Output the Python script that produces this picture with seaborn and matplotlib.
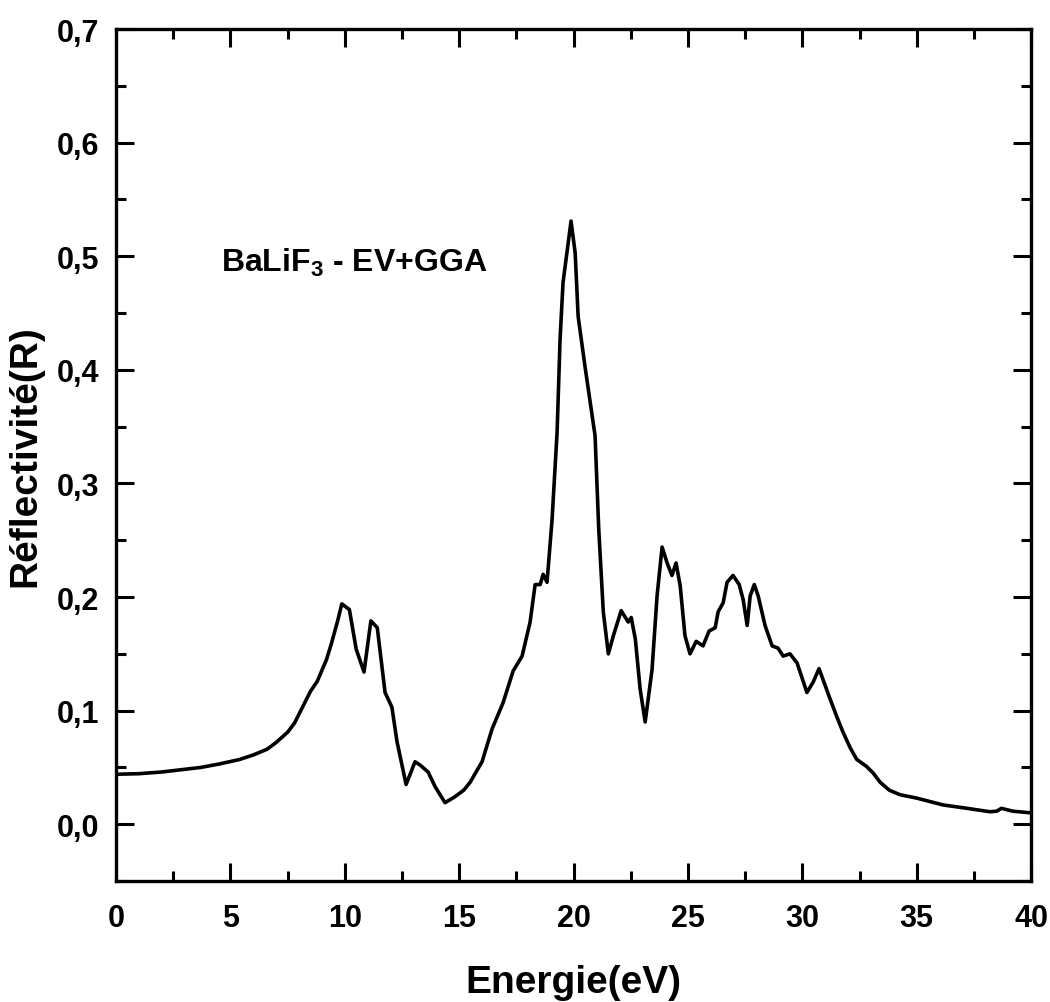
import numpy as np
import pandas as pd
import matplotlib
matplotlib.use("Agg")
import matplotlib.pyplot as plt
from matplotlib.ticker import MultipleLocator, FuncFormatter
import seaborn as sns

# values
energy = [0, 1, 2, 3.7, 4.5, 5.4, 6.0, 6.6, 7.0, 7.5, 7.8, 8.0, 8.5, 8.8, 9.2,
          9.4, 9.7, 9.87, 10.2, 10.5, 10.84, 11.14, 11.42, 11.76, 12.06, 12.28,
          12.68, 13.07, 13.3, 13.64, 13.95, 14.38, 14.8, 15.2, 15.48, 16.0,
          16.44, 16.92, 17.36, 17.75, 18.1, 18.32, 18.54, 18.67, 18.84, 19.06,
          19.28, 19.41, 19.54, 19.89, 20.07, 20.2, 20.5, 20.94, 21.1, 21.3,
          21.52, 21.74, 22.08, 22.39, 22.52, 22.7, 22.91, 23.13, 23.43, 23.65,
          23.87, 24.09, 24.3, 24.48, 24.66, 24.87, 25.09, 25.36, 25.66, 25.92,
          26.19, 26.32, 26.54, 26.71, 26.97, 27.24, 27.41, 27.59, 27.72, 27.9,
          28.07, 28.37, 28.68, 28.94, 29.16, 29.46, 29.77, 30.2, 30.47, 30.73,
          31.2, 31.5, 31.78, 32.1, 32.38, 32.8, 33.1, 33.4, 33.8, 34.27, 35.0,
          36.15, 37.2, 38.2, 38.5, 38.7, 39.2, 40]
reflectivity = [0.044, 0.0445, 0.046, 0.050, 0.053, 0.057, 0.061, 0.066, 0.072,
                0.081, 0.089, 0.097, 0.117, 0.126, 0.145, 0.158, 0.180, 0.194,
                0.189, 0.154, 0.134, 0.179, 0.173, 0.116, 0.103, 0.073, 0.035,
                0.055, 0.052, 0.046, 0.033, 0.019, 0.024, 0.030, 0.037, 0.055,
                0.084, 0.107, 0.135, 0.148, 0.178, 0.211, 0.211, 0.220, 0.213,
                0.268, 0.345, 0.427, 0.477, 0.531, 0.503, 0.447, 0.403, 0.342,
                0.260, 0.187, 0.150, 0.166, 0.188, 0.178, 0.182, 0.163, 0.119,
                0.090, 0.136, 0.201, 0.244, 0.230, 0.219, 0.230, 0.210, 0.166,
                0.150, 0.161, 0.157, 0.170, 0.173, 0.187, 0.195, 0.213, 0.219,
                0.211, 0.198, 0.175, 0.201, 0.211, 0.201, 0.175, 0.157, 0.155,
                0.148, 0.150, 0.142, 0.116, 0.125, 0.137, 0.111, 0.095, 0.081,
                0.067, 0.057, 0.051, 0.045, 0.037, 0.030, 0.026, 0.023, 0.017,
                0.014, 0.011, 0.0115, 0.014, 0.0115, 0.010]

x_ticks = [0, 5, 10, 15, 20, 25, 30, 35, 40]
y_ticks = [0.0, 0.1, 0.2, 0.3, 0.4, 0.5, 0.6, 0.7]

sns.set_theme(style="ticks")
plt.rcParams["font.family"] = ["Liberation Sans", "DejaVu Sans"]
plt.rcParams["font.weight"] = "bold"
plt.rcParams["text.color"] = "black"
plt.rcParams["axes.labelcolor"] = "black"
plt.rcParams["mathtext.fontset"] = "custom"
plt.rcParams["mathtext.rm"] = "Liberation Sans:bold"
plt.rcParams["mathtext.bf"] = "Liberation Sans:bold"
plt.rcParams["mathtext.default"] = "bf"

df = pd.DataFrame({"energy": energy, "R": reflectivity})

fig = plt.figure(figsize=(10.5, 10.03), dpi=100)
ax = fig.add_axes([0.1105, 0.1206, 0.8715, 0.8494])
sns.lineplot(data=df, x="energy", y="R", color="black", linewidth=2.6, ax=ax)

ax.set_xlim(0, 40)
ax.set_ylim(-0.05, 0.7)
ax.set_xticks(x_ticks)
ax.set_yticks(y_ticks)
ax.xaxis.set_minor_locator(MultipleLocator(2.5))
ax.yaxis.set_minor_locator(MultipleLocator(0.05))
ax.yaxis.set_major_formatter(FuncFormatter(lambda v, p: f"{v:.1f}".replace(".", ",")))

for s in ax.spines.values():
    s.set_linewidth(2.4)
    s.set_color("black")
    s.set_visible(True)

ax.tick_params(which="both", direction="in", top=True, right=True,
               colors="black", labelcolor="black")
ax.tick_params(which="major", length=13, width=2.2, labelsize=22)
ax.tick_params(which="minor", length=7, width=2.2)
ax.tick_params(axis="x", which="major", pad=16)
ax.tick_params(axis="y", which="major", pad=12)
for lab in ax.get_xticklabels() + ax.get_yticklabels():
    lab.set_fontweight("bold")

ax.set_xlabel("Energie(eV)", fontsize=28, fontweight="bold", labelpad=22, color="black")
ax.set_ylabel("Réflectivité(R)", fontsize=28, fontweight="bold", labelpad=10, color="black")

ax.text(4.6, 0.487, r"BaLiF$_3$ - EV+GGA", fontsize=23, fontweight="bold",
        ha="left", va="baseline", color="black")

fig.savefig("out.png", dpi=100, facecolor="white")
